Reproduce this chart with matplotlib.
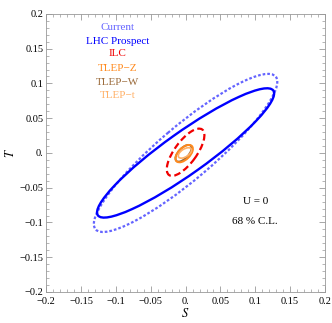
import numpy as np
import matplotlib.pyplot as plt
from matplotlib.patches import Ellipse
from matplotlib.ticker import MultipleLocator, FixedLocator

plt.rcParams['font.family'] = ['Liberation Serif', 'DejaVu Serif']
plt.rcParams['mathtext.fontset'] = 'stix'

# fit ellipses: name, center, sigma_S, sigma_T, correlation
names = ["Current", "LHC Prospect", "ILC", "TLEP-Z", "TLEP-W", "TLEP-t"]
center_s = [0.0, 0.0, 0.0, -0.002, -0.003, -0.001]
center_t = [0.0, 0.0, 0.001, -0.001, -0.0005, 0.0]
sigma_s = [0.1316, 0.127, 0.027, 0.0125, 0.0115, 0.0095]
sigma_t = [0.1137, 0.093, 0.034, 0.0125, 0.012, 0.0075]
rho = [0.90, 0.92, 0.72, 0.55, 0.62, 0.55]
colors = ["#6464FF", "#0000FF", "#F00000", "#FF8A1E", "#9A6A3A", "#FFB066"]
styles = [(0, (1.2, 0.9)), "-", (0, (3, 1.6)), "-", "-", "-"]
widths = [1.6, 1.7, 1.6, 1.4, 1.4, 1.2]

ticks = [-0.2, -0.15, -0.1, -0.05, 0.0, 0.05, 0.1, 0.15, 0.2]
tick_labels = ["\u22120.2", "\u22120.15", "\u22120.1", "\u22120.05", "0.",
               "0.05", "0.1", "0.15", "0.2"]

fig = plt.figure(figsize=(3.32, 3.23), dpi=100)
ax = fig.add_axes([0.139, 0.096, 0.840, 0.861])

draw_order = [0, 1, 2, 4, 3, 5]
for i in draw_order:
    cov = np.array([[sigma_s[i] ** 2, rho[i] * sigma_s[i] * sigma_t[i]],
                    [rho[i] * sigma_s[i] * sigma_t[i], sigma_t[i] ** 2]])
    vals, vecs = np.linalg.eigh(cov)
    ang = np.degrees(np.arctan2(vecs[1, 1], vecs[0, 1]))
    e = Ellipse((center_s[i], center_t[i]), 2 * np.sqrt(vals[1]), 2 * np.sqrt(vals[0]),
                angle=ang, fill=False, edgecolor=colors[i], linestyle=styles[i],
                linewidth=widths[i])
    ax.add_patch(e)

# legend as coloured text lines
label_t = [0.181, 0.161, 0.143, 0.122, 0.102, 0.082]
for i in range(len(names)):
    ax.text(-0.098, label_t[i], names[i].replace("-", "\u2212"), color=colors[i],
            ha="center", va="center", fontsize=8)

ax.text(0.1, -0.070, "U = 0", ha="center", va="center", fontsize=8)
ax.text(0.1, -0.099, "68 % C.L.", ha="center", va="center", fontsize=8)

ax.set_xlim(-0.2, 0.2)
ax.set_ylim(-0.2, 0.2)
ax.xaxis.set_major_locator(FixedLocator(ticks))
ax.yaxis.set_major_locator(FixedLocator(ticks))
ax.set_xticklabels(tick_labels)
ax.set_yticklabels(tick_labels)
ax.xaxis.set_minor_locator(MultipleLocator(0.01))
ax.yaxis.set_minor_locator(MultipleLocator(0.01))
ax.tick_params(which="both", direction="in", top=True, right=True,
               color="#999999", labelsize=7.5)
ax.tick_params(axis="x", pad=3.5)
ax.tick_params(axis="y", pad=2)
ax.tick_params(which="major", length=4, width=0.6)
ax.tick_params(which="minor", length=2, width=0.5)
for sp in ax.spines.values():
    sp.set_color("#999999")
    sp.set_linewidth(0.6)

ax.set_xlabel("$S$", fontsize=9, labelpad=1)
ax.set_ylabel("$T$", fontsize=9, labelpad=2)

fig.savefig("out.png", dpi=100)
